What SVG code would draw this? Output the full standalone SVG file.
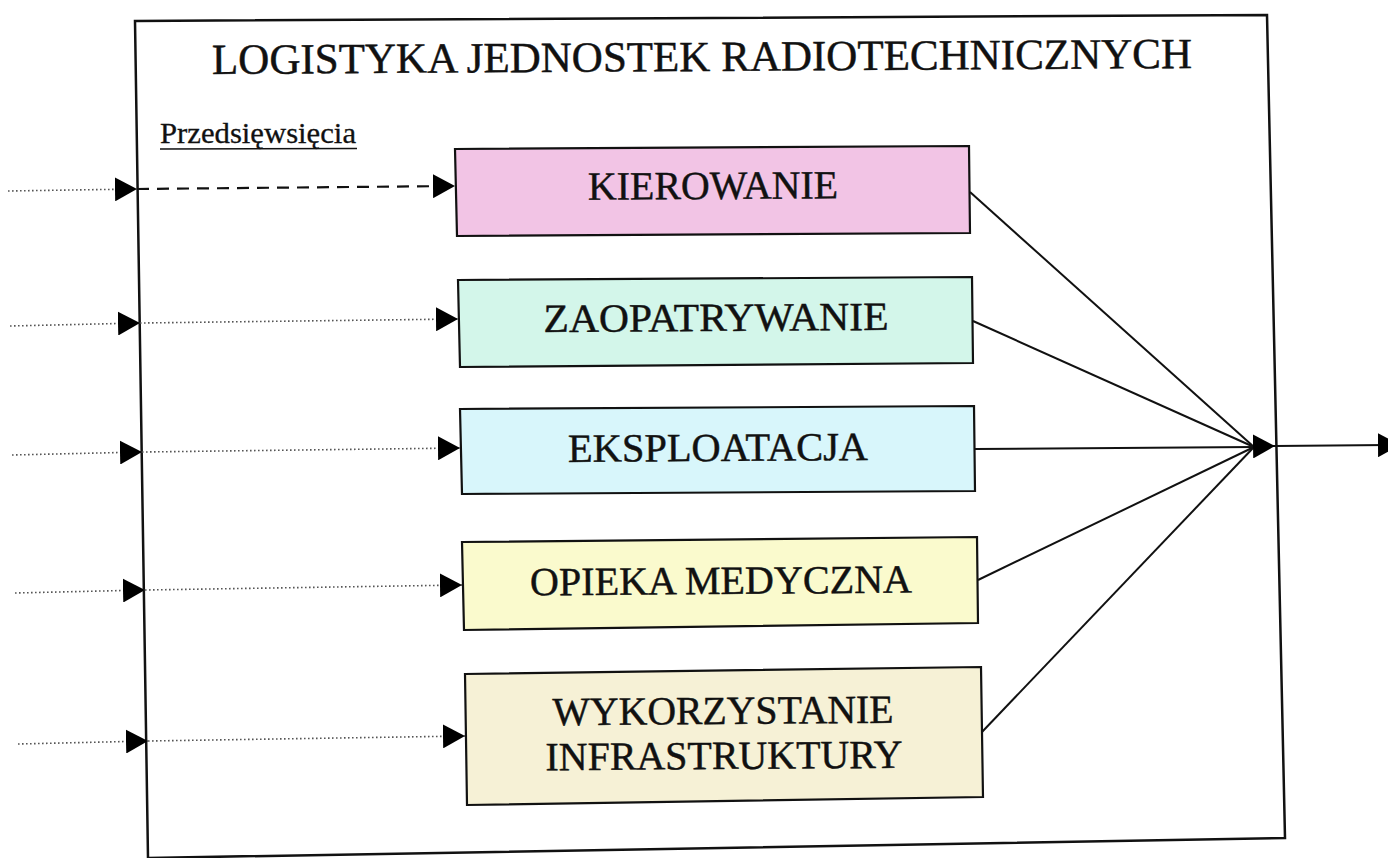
<svg xmlns="http://www.w3.org/2000/svg" width="1388" height="858" viewBox="0 0 1388 858">
  <style>
    .frame { fill: none; stroke: #111; stroke-width: 2.5; }
    .box { stroke: #111; stroke-width: 2.2; }
    .lbl { font-family: "Liberation Serif", "Times New Roman", serif; fill: #111; stroke: #111; stroke-width: 0.45; text-anchor: middle; }
    .in-dot { fill: none; stroke: #555; stroke-width: 1.6; stroke-dasharray: 1.6 2.4; }
    .in-dash { fill: none; stroke: #111; stroke-width: 2.2; stroke-dasharray: 12 8; }
    .out { fill: none; stroke: #111; stroke-width: 2; }
  </style>
  <defs>
    <marker id="tri" viewBox="0 0 22 24" refX="22" refY="12" markerWidth="22" markerHeight="24" markerUnits="userSpaceOnUse" orient="auto">
      <path d="M0,0 L22,12 L0,24 Z" fill="#000"/>
    </marker>
  </defs>
  <rect width="1388" height="858" fill="#fff"/>

  <!-- outer frame with title and section heading -->
  <g id="frame">
    <polygon class="frame" points="135,21 1267,15 1285,838 148,858"/>
    <text class="lbl" x="702" y="71" font-size="43" textLength="980" lengthAdjust="spacingAndGlyphs" transform="rotate(-0.35 702 60)">LOGISTYKA JEDNOSTEK RADIOTECHNICZNYCH</text>
    <text x="160" y="143" font-family="'Liberation Serif', 'Times New Roman', serif" font-size="29" fill="#111" stroke="#111" stroke-width="0.3" textLength="196" lengthAdjust="spacingAndGlyphs">Przedsięwsięcia</text>
    <line x1="160" y1="149" x2="357" y2="148.5" stroke="#111" stroke-width="1.6"/>
  </g>

  <!-- activity boxes -->
  <g id="kierowanie">
    <polygon class="box" fill="#f2c4e5" points="455,149 969,146 970,233 457,236"/>
    <text class="lbl" x="713" y="199" font-size="40" textLength="250" lengthAdjust="spacingAndGlyphs" transform="rotate(-0.35 713 190)">KIEROWANIE</text>
  </g>
  <g id="zaopatrywanie">
    <polygon class="box" fill="#d3f6ea" points="458,280 972,277 973,363 460,367"/>
    <text class="lbl" x="716" y="331" font-size="40" textLength="345" lengthAdjust="spacingAndGlyphs" transform="rotate(-0.35 716 320)">ZAOPATRYWANIE</text>
  </g>
  <g id="eksploatacja">
    <polygon class="box" fill="#d8f6fb" points="460,409 974,406 975,491 462,494"/>
    <text class="lbl" x="718" y="461" font-size="40" textLength="300" lengthAdjust="spacingAndGlyphs" transform="rotate(-0.35 718 450)">EKSPLOATACJA</text>
  </g>
  <g id="opieka-medyczna">
    <polygon class="box" fill="#fafacd" points="462,542 977,537 978,623 464,630"/>
    <text class="lbl" x="721" y="594" font-size="40" textLength="382" lengthAdjust="spacingAndGlyphs" transform="rotate(-0.4 721 583)">OPIEKA MEDYCZNA</text>
  </g>
  <g id="wykorzystanie-infrastruktury">
    <polygon class="box" fill="#f6f1d6" points="465,674 981,667 983,797 467,805"/>
    <text class="lbl" x="723" y="724" font-size="40" textLength="341" lengthAdjust="spacingAndGlyphs" transform="rotate(-0.4 723 713)">WYKORZYSTANIE</text>
    <text class="lbl" x="724" y="769" font-size="40" textLength="357" lengthAdjust="spacingAndGlyphs" transform="rotate(-0.4 724 758)">INFRASTRUKTURY</text>
  </g>

  <!-- connectors -->
  <g id="connectors">
    <!-- inputs crossing the frame -->
    <line class="in-dot" x1="8" y1="191" x2="137" y2="189" marker-end="url(#tri)"/>
    <line class="in-dash" x1="137" y1="189" x2="455" y2="186" marker-end="url(#tri)"/>

    <line class="in-dot" x1="10" y1="326" x2="140" y2="323" marker-end="url(#tri)"/>
    <line class="in-dot" x1="140" y1="323" x2="458" y2="319" marker-end="url(#tri)"/>

    <line class="in-dot" x1="12" y1="455" x2="142" y2="452" marker-end="url(#tri)"/>
    <line class="in-dot" x1="142" y1="452" x2="460" y2="448" marker-end="url(#tri)"/>

    <line class="in-dot" x1="15" y1="593" x2="145" y2="590" marker-end="url(#tri)"/>
    <line class="in-dot" x1="145" y1="590" x2="462" y2="585" marker-end="url(#tri)"/>

    <line class="in-dot" x1="18" y1="744" x2="148" y2="741" marker-end="url(#tri)"/>
    <line class="in-dot" x1="148" y1="741" x2="465" y2="736" marker-end="url(#tri)"/>

    <!-- outputs converging on the junction -->
    <line class="out" x1="970" y1="192" x2="1254" y2="447"/>
    <line class="out" x1="973" y1="321" x2="1254" y2="447"/>
    <line class="out" x1="975" y1="449" x2="1254" y2="447"/>
    <line class="out" x1="978" y1="580" x2="1254" y2="447"/>
    <line class="out" x1="982" y1="732" x2="1254" y2="447"/>
    <line class="out" x1="1250" y1="446.5" x2="1275" y2="446" marker-end="url(#tri)"/>
    <line class="out" x1="1275" y1="446" x2="1400" y2="445" marker-end="url(#tri)"/>
  </g>
</svg>
